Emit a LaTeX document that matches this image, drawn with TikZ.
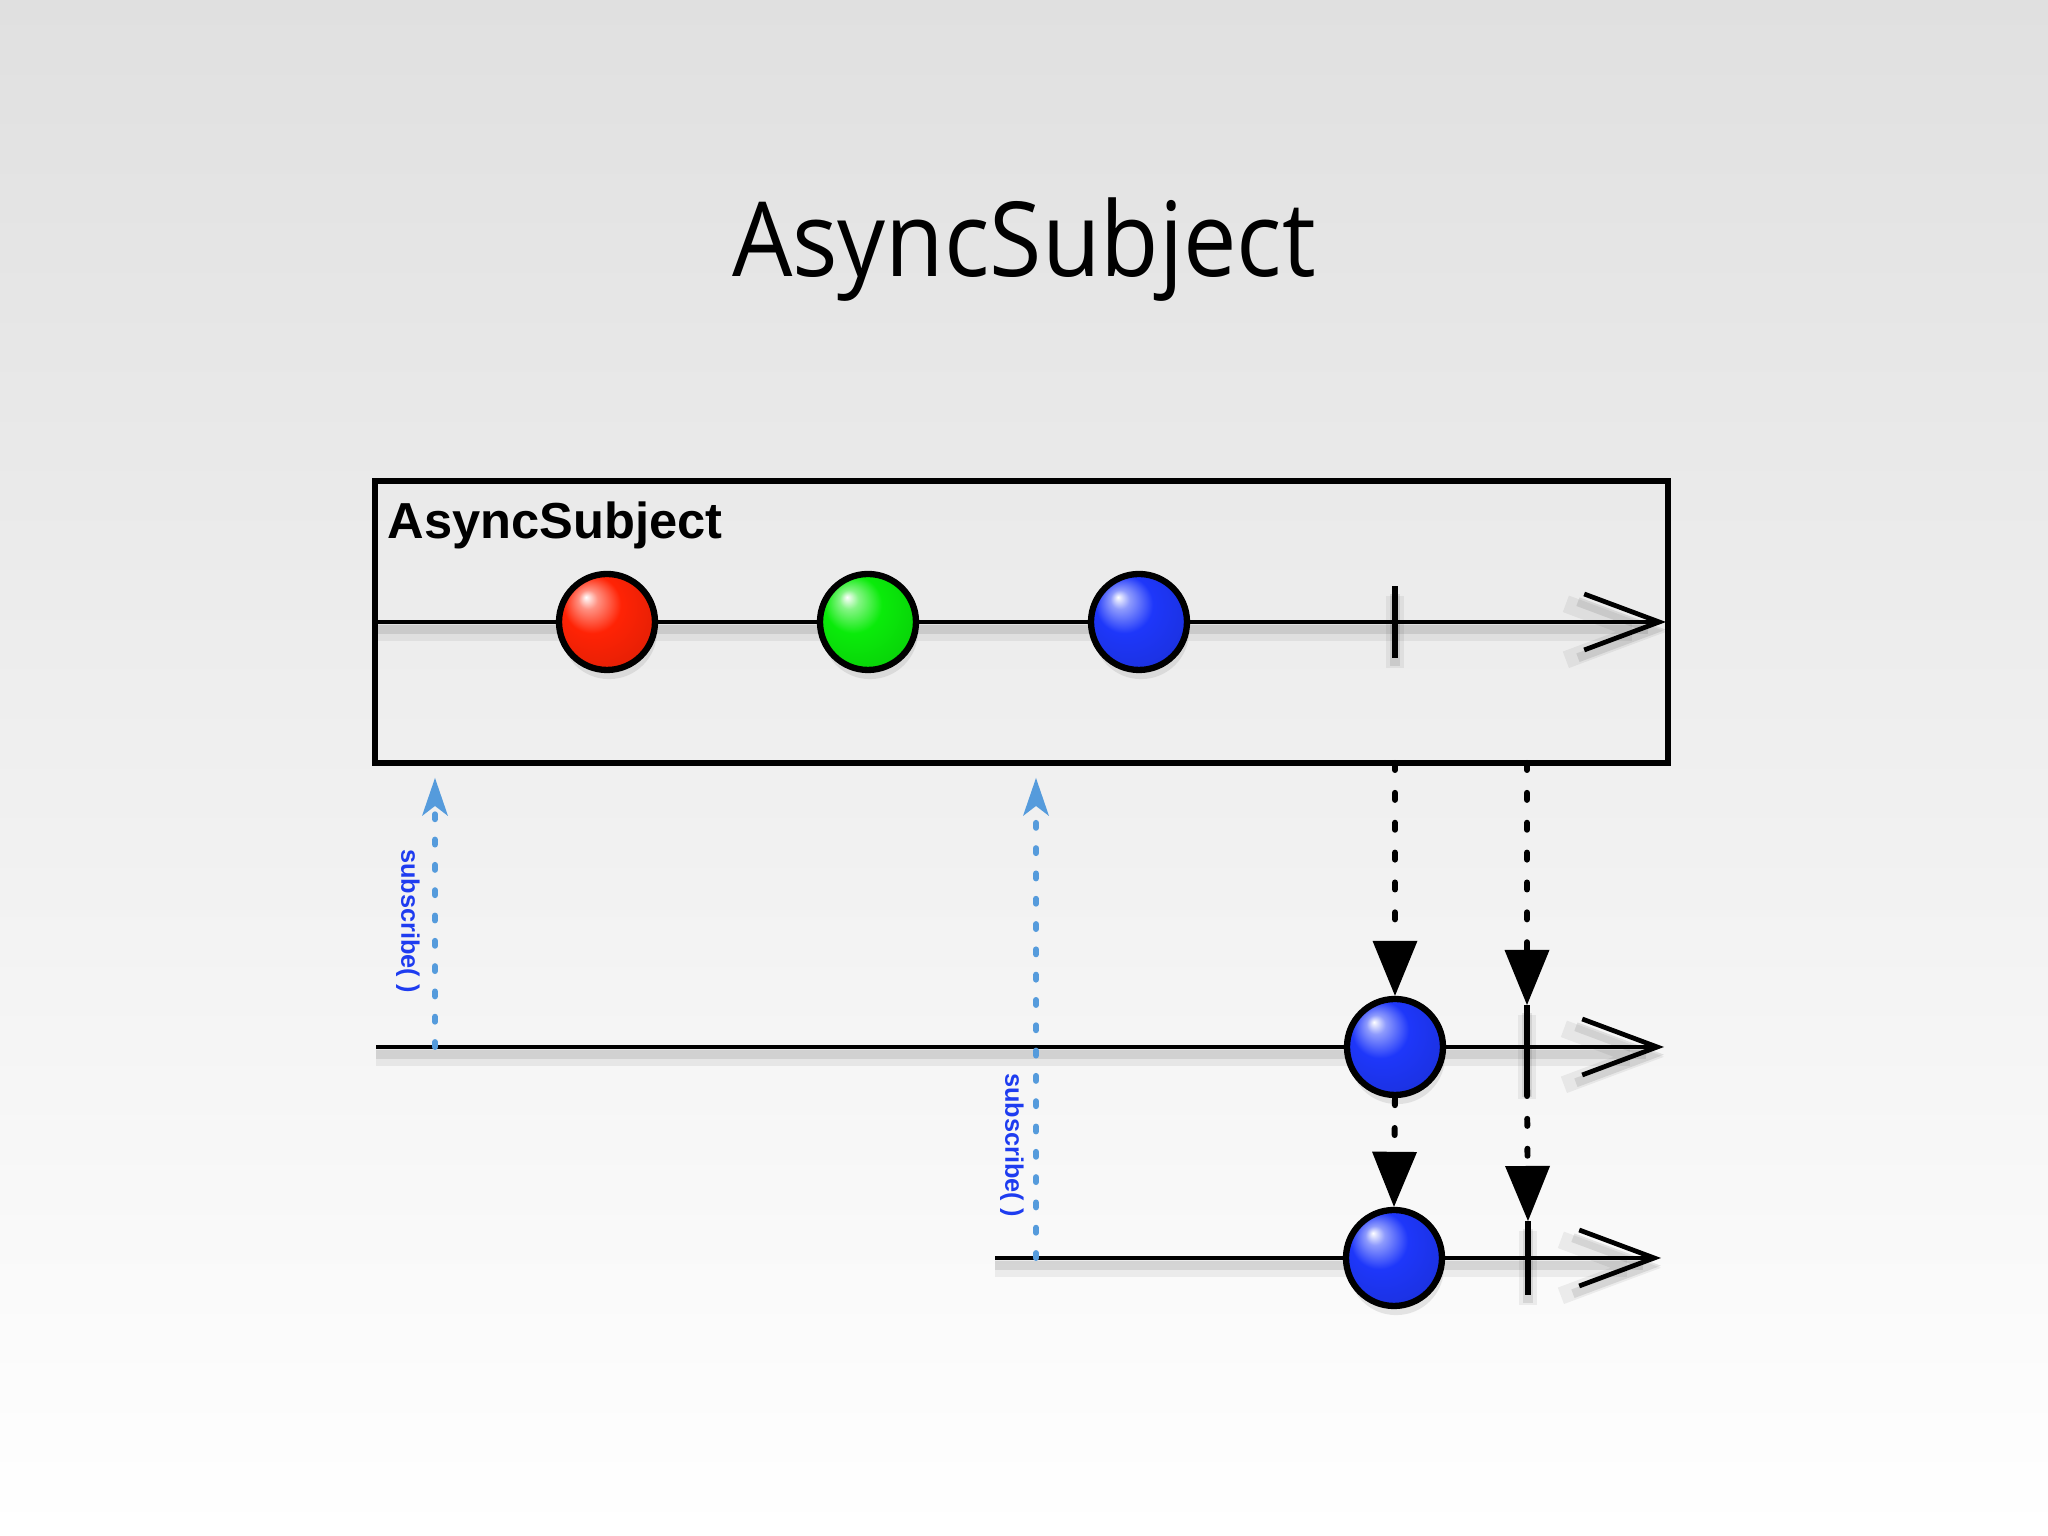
\documentclass[tikz,border=0pt]{standalone}
\usepackage{fontspec}
\setmainfont{Open Sans}
\newfontfamily\titlefont[FakeStretch=0.92]{Open Sans}
\newfontfamily\helv{Liberation Sans}
\usetikzlibrary{arrows.meta,shadows}
\definecolor{bgtop}{RGB}{224,224,224}
\definecolor{subblue}{RGB}{30,60,240}
\definecolor{dashblue}{RGB}{85,155,220}
\definecolor{ballred}{RGB}{255,35,5}
\definecolor{ballgreen}{RGB}{10,235,10}
\definecolor{ballblue}{RGB}{30,55,250}
% glossy marble shadings
\newcommand\declaremarble[2]{%
  \pgfdeclareradialshading{#1}{\pgfpoint{-11bp}{13bp}}{color(0bp)=(white); color(5bp)=(#2!50!white);
    color(15bp)=(#2); color(34bp)=(#2!88!black); color(50bp)=(#2!62!black)}}
\declaremarble{redmarble}{ballred}
\declaremarble{greenmarble}{ballgreen}
\declaremarble{bluemarble}{ballblue}
\tikzset{
  lineshadow/.style={preaction={draw=black,opacity=.06,line width=5pt,transform canvas={yshift=-2.8pt}},
    preaction={draw=black,opacity=.09,line width=2.6pt,transform canvas={yshift=-2.2pt}}},
  timeline/.style={line width=1.35pt,lineshadow,-{Straight Barb[length=7.5mm,width=5.6mm]}},
  tickmark/.style={line width=1.5pt,lineshadow},
  marble/.style={circle,draw,line width=1.8pt,minimum size=.96cm,inner sep=0pt,
    drop shadow={opacity=.18,shadow xshift=.6pt,shadow yshift=-2.6pt}},
  emit/.style={line width=1.7pt,line cap=round,dash pattern=on 2pt off 6.5pt,
    -{Triangle[length=5.5mm,width=4.5mm,line width=0pt]}},
  subscr/.style={draw=dashblue,line width=1.7pt,line cap=round,dash pattern=on 1.4pt off 5.8pt,
    -{Stealth[length=3.8mm,width=2.6mm,inset=1mm,line width=0pt]}},
  sublabel/.style={text=subblue,rotate=-90,inner sep=0pt,font=\helv\bfseries\fontsize{7.2}{8}\selectfont}
}
\begin{document}
\begin{tikzpicture}[x=1cm,y=1cm]
\shade[top color=bgtop,bottom color=white] (0,0) rectangle (20.48,15.36);
\useasboundingbox (0,0) rectangle (20.48,15.36);
\node[anchor=base,inner sep=0pt] (title) at (10.24,12.59) {\titlefont\fontsize{29.5}{34}\selectfont AsyncSubject};
% subject
\draw[line width=1.5pt] (3.75,10.55) rectangle (16.68,7.73);
\node[anchor=base west,inner sep=0pt] (boxlabel) at (3.87,9.97) {\helv\bfseries\fontsize{14.4}{17}\selectfont AsyncSubject};
\coordinate (s0) at (3.75,9.14);
\coordinate (s1) at (16.66,9.14);
\coordinate (a0) at (3.76,4.89);
\coordinate (a1) at (16.64,4.89);
\coordinate (b0) at (9.95,2.78);
\coordinate (b1) at (16.61,2.78);
\draw[timeline] (s0) -- (s1);
\draw[timeline] (a0) -- (a1);
\draw[timeline] (b0) -- (b1);
% completion ticks
\draw[tickmark] (13.95,8.78) -- (13.95,9.50);
\draw[tickmark] (15.27,4.47) -- (15.27,5.31);
\draw[tickmark] (15.28,2.41) -- (15.28,3.15);
\coordinate (adonetop) at (15.27,5.31);
\coordinate (adonebot) at (15.27,4.47);
\coordinate (bdonetop) at (15.28,3.15);
% values
\node[marble,shading=redmarble] (sred) at (6.07,9.14) {};
\node[marble,shading=greenmarble] (sgreen) at (8.68,9.14) {};
\node[marble,shading=bluemarble] (sblue) at (11.39,9.14) {};
\node[marble,shading=bluemarble] (oa) at (13.95,4.89) {};
\node[marble,shading=bluemarble] (ob) at (13.94,2.78) {};
% emissions
\coordinate (boxa) at (13.95,7.73);
\coordinate (boxb) at (15.27,7.73);
\draw[emit] (boxa) -- (oa.north);
\draw[emit] (boxb) -- (adonetop);
\draw[emit] (oa.south) -- (ob.north);
\draw[emit] (adonebot) -- (bdonetop);
% subscriptions
\coordinate (suba) at (4.35,4.89);
\coordinate (subatop) at (4.35,7.58);
\coordinate (subb) at (10.36,2.78);
\coordinate (subbtop) at (10.36,7.58);
\draw[subscr] (suba) -- (subatop);
\draw[subscr] (subb) -- (subbtop);
\node[sublabel] (laba) at (4.08,6.15) {subscribe( )};
\node[sublabel] (labb) at (10.12,3.91) {subscribe( )};
\end{tikzpicture}
\end{document}
